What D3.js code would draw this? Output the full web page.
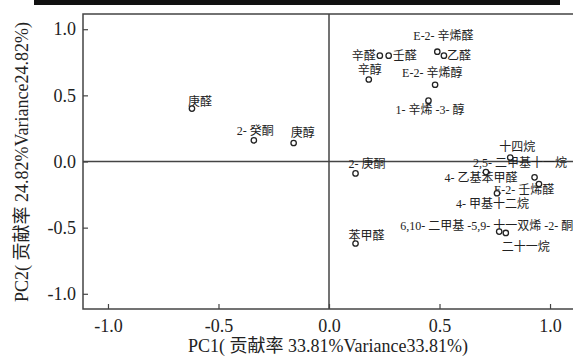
<!DOCTYPE html>
<html>
<head>
<meta charset="utf-8">
<script src="https://cdn.jsdelivr.net/npm/d3@7"></script>
<style>
  body { margin: 0; background: #fff; }
  text { font-family: "Liberation Serif", "Times New Roman", "Noto Sans CJK SC", serif; fill: #222; }
</style>
</head>
<body>
<svg id="chart" width="573" height="360"></svg>
<script>
// compound names
var names = ["庚醛", "2- 癸酮", "庚醇", "辛醛", "壬醛", "E-2- 辛烯醛", "乙醛", "辛醇",
    "E-2- 辛烯醇", "1- 辛烯 -3- 醇", "2- 庚酮", "苯甲醛", "十四烷", "2,5- 二甲基十一烷",
    "4- 乙基苯甲醛", "E-2- 壬烯醛", "4- 甲基十二烷", "6,10- 二甲基 -5,9- 十一双烯 -2- 酮", "二十一烷"];
// loadings on PC1 / PC2
var pc1 = [-0.62, -0.34, -0.16, 0.23, 0.27, 0.49, 0.52, 0.18, 0.48, 0.45, 0.12, 0.12,
    0.82, 0.71, 0.93, 0.95, 0.76, 0.77, 0.80];
var pc2 = [0.40, 0.16, 0.14, 0.80, 0.80, 0.83, 0.80, 0.62, 0.58, 0.46, -0.09, -0.62,
    0.03, -0.08, -0.12, -0.17, -0.24, -0.53, -0.54];
var xTicks = [-1.0, -0.5, 0.0, 0.5, 1.0];
var yTicks = [-1.0, -0.5, 0.0, 0.5, 1.0];
var xTitle = "PC1( 贡献率 33.81%Variance33.81%)";
var yTitle = "PC2( 贡献率 24.82%Variance24.82%)";

// where each label sits relative to its point: [dx, dy, anchor]
var labelPos = [[-4, -3, "start"], [-17, -5, "start"], [-3, -6, "start"], [-4, 4, "end"],
    [4, 4, "start"], [-24, -12, "start"], [3, 4, "start"], [-11, -5, "start"],
    [-33, -8, "start"], [-33, 13, "start"], [-7, -5, "start"], [-7, -4, "start"],
    [-11, -7, "start"], [-13, -5, "start"], [-17, 5, "end"], [-45, 10, "start"],
    [-41, 15, "start"], [-99, -2, "start"], [-4, 18, "start"]];

var svg = d3.select("#chart");
var mLeft = 83, mRight = 575, mTop = 14, mBottom = 309;

var x = d3.scaleLinear().domain([-1.113, 1.113]).range([mLeft, mRight]);
var y = d3.scaleLinear().domain([-1.115, 1.115]).range([mBottom, mTop]);

function fmt(d) { return d.toFixed(1); }

// black rule at top of the page
svg.append("rect").attr("x", 34).attr("y", 0).attr("width", 526).attr("height", 5).attr("fill", "#111");

// frame
svg.append("rect")
    .attr("x", mLeft).attr("y", mTop)
    .attr("width", mRight - mLeft).attr("height", mBottom - mTop)
    .attr("fill", "none").attr("stroke", "#444").attr("stroke-width", 1.5);

// zero lines
svg.append("line").attr("x1", x(0)).attr("x2", x(0)).attr("y1", mTop).attr("y2", mBottom)
    .attr("stroke", "#444").attr("stroke-width", 1.5);
svg.append("line").attr("x1", mLeft).attr("x2", mRight).attr("y1", y(0)).attr("y2", y(0))
    .attr("stroke", "#444").attr("stroke-width", 1.5);

var xAxis = d3.axisBottom(x).tickValues(xTicks).tickFormat(fmt)
    .tickSizeInner(-5).tickSizeOuter(0).tickPadding(10);
var yAxis = d3.axisLeft(y).tickValues(yTicks).tickFormat(fmt)
    .tickSizeInner(-5).tickSizeOuter(0).tickPadding(7);

var gx = svg.append("g").attr("transform", "translate(0," + mBottom + ")").call(xAxis);
var gy = svg.append("g").attr("transform", "translate(" + mLeft + ",0)").call(yAxis);
[gx, gy].forEach(function(g){
    g.select(".domain").remove();
    g.selectAll(".tick line").attr("stroke", "#444").attr("stroke-width", 1.2);
    g.selectAll(".tick text").attr("font-size", "18px")
        .attr("font-family", "\"Liberation Serif\", serif").attr("fill", "#222");
});

// axis titles
svg.append("text").attr("x", 328).attr("y", 352).attr("text-anchor", "middle")
    .attr("font-size", "18px").text(xTitle);
svg.append("text").attr("transform", "translate(28,162) rotate(-90)").attr("text-anchor", "middle")
    .attr("font-size", "18px").text(yTitle);

// labels
names.forEach(function(n, i){
    var p = labelPos[i];
    svg.append("text")
        .attr("x", x(pc1[i]) + p[0]).attr("y", y(pc2[i]) + p[1])
        .attr("text-anchor", p[2])
        .attr("font-size", "12px")
        .text(n);
});

// points
svg.selectAll("circle.pt").data(names).enter().append("circle")
    .attr("class", "pt")
    .attr("cx", function(d, i){ return x(pc1[i]); })
    .attr("cy", function(d, i){ return y(pc2[i]); })
    .attr("r", 2.7)
    .attr("fill", "#fff").attr("stroke", "#222").attr("stroke-width", 1.3);
</script>
</body>
</html>
